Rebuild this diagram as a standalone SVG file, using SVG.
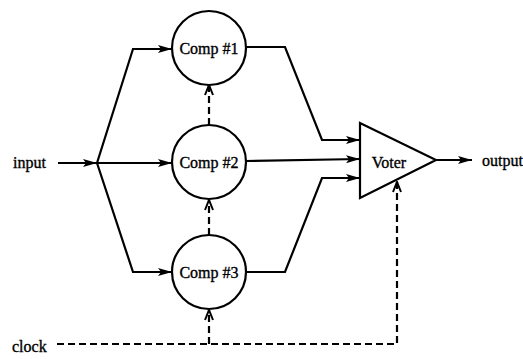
<svg xmlns="http://www.w3.org/2000/svg" width="523" height="359" viewBox="0 0 523 359">
<defs>
<style>
.ln{fill:none;stroke:#000;stroke-width:2.2;stroke-linejoin:miter}
.dl{fill:none;stroke:#000;stroke-width:2.2;stroke-dasharray:7 4}
.nd{fill:#fff;stroke:#000;stroke-width:2.2}
.t{font-family:"Liberation Serif","Times New Roman",serif;font-size:16px;fill:#000;stroke:#000;stroke-width:0.35}
</style>
<marker id="a" viewBox="0 0 14 8" refX="14" refY="4" markerWidth="14" markerHeight="8" markerUnits="userSpaceOnUse" orient="auto">
<path d="M0,0 L14,4 L0,8 L3,4 Z" fill="#000"/>
</marker>
<marker id="d" viewBox="0 0 12 10" refX="11" refY="5" markerWidth="12" markerHeight="10" markerUnits="userSpaceOnUse" orient="auto">
<path d="M1,1 L11,5 L1,9" fill="none" stroke="#000" stroke-width="2"/>
</marker>
</defs>
<rect width="523" height="359" fill="#fff"/>
<g id="connectors">
<line class="ln" x1="58" y1="163" x2="97" y2="163" marker-end="url(#a)"/>
<polyline class="ln" points="97,163 133,49 172,49" marker-end="url(#a)"/>
<line class="ln" x1="97" y1="163" x2="172" y2="163" marker-end="url(#a)"/>
<polyline class="ln" points="97,163 133,272 172,272" marker-end="url(#a)"/>
<polyline class="ln" points="246,47 285,47 322,140 360,140" marker-end="url(#a)"/>
<line class="ln" x1="246" y1="161" x2="360" y2="159" marker-end="url(#a)"/>
<polyline class="ln" points="246,272 285,272 322,178 360,178" marker-end="url(#a)"/>
<line class="ln" x1="436" y1="160" x2="472" y2="160" marker-end="url(#a)"/>
<polyline class="dl" points="57,344 397,344 397,182" marker-end="url(#d)"/>
<line class="dl" x1="209" y1="344" x2="209" y2="310" marker-end="url(#d)"/>
<line class="dl" x1="209" y1="235" x2="209" y2="200" marker-end="url(#d)"/>
<line class="dl" x1="209" y1="125" x2="209" y2="85" marker-end="url(#d)"/>
</g>
<g id="comp1"><ellipse class="nd" cx="209" cy="48" rx="37" ry="37"/><text class="t" x="209" y="54" text-anchor="middle">Comp #1</text></g>
<g id="comp2"><ellipse class="nd" cx="209" cy="162" rx="37" ry="37"/><text class="t" x="209" y="168" text-anchor="middle">Comp #2</text></g>
<g id="comp3"><ellipse class="nd" cx="209" cy="272" rx="37" ry="37"/><text class="t" x="209" y="278" text-anchor="middle">Comp #3</text></g>
<g id="voter"><polygon class="nd" points="360,123 360,198 436,160"/><text class="t" x="389" y="168" text-anchor="middle">Voter</text></g>
<g id="labels">
<text class="t" x="13" y="168">input</text>
<text class="t" x="482" y="166">output</text>
<text class="t" x="12" y="352">clock</text>
</g>
</svg>
